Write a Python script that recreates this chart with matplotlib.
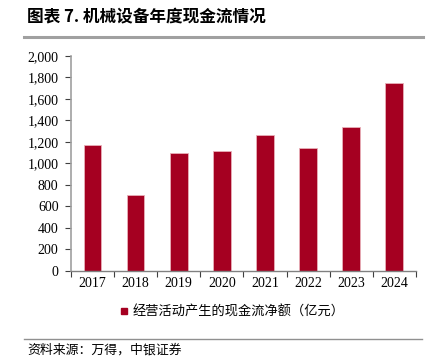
import matplotlib.pyplot as plt
import numpy as np
from matplotlib.ticker import FuncFormatter, FixedLocator
from matplotlib.lines import Line2D

plt.rcParams['font.family'] = ['Liberation Serif', 'Noto Sans CJK SC']

# データ
years = ['2017', '2018', '2019', '2020', '2021', '2022', '2023', '2024']
cash_flow = [1172, 702, 1098, 1120, 1265, 1144, 1337, 1743]
series_name = '经营活动产生的现金流净额（亿元）'

bar_color = '#A50021'
cjk = ['Noto Sans CJK SC', 'DejaVu Sans']

fig = plt.figure(figsize=(4.41, 3.58), dpi=100)
ax = fig.add_axes([0.161, 0.243, 0.782, 0.601])

x = np.arange(len(years))
ax.bar(x, cash_flow, width=0.41, color=bar_color, edgecolor='#E8B0B8', linewidth=0.6)

ax.set_xlim(-0.5, len(years) - 0.5)
ax.set_ylim(0, 2000)
ax.set_yticks(range(0, 2001, 200))
ax.yaxis.set_major_formatter(FuncFormatter(lambda v, p: f'{int(v):,}'))
ax.set_xticks(x)
ax.set_xticklabels(years)
ax.xaxis.set_minor_locator(FixedLocator(np.arange(-0.5, len(years), 1)))
ax.tick_params(axis='x', which='major', length=0, labelsize=10, pad=4)
ax.tick_params(axis='x', which='minor', length=4, width=0.8, color='#404040', direction='out')
ax.tick_params(axis='y', length=4, width=0.8, color='#404040', labelsize=10, pad=5)

for s in ['top', 'right']:
    ax.spines[s].set_visible(False)
ax.spines['left'].set_color('#A0A0A0')
ax.spines['left'].set_linewidth(1.2)
ax.spines['bottom'].set_color('#808080')
ax.spines['bottom'].set_linewidth(1.0)

# 凡例
handle = Line2D([], [], marker='s', linestyle='none', color=bar_color, markersize=5)
leg = fig.legend([handle], [series_name], loc='center', bbox_to_anchor=(0.527, 0.128),
                 frameon=False, handlelength=0.6, handletextpad=0.3,
                 prop={'family': cjk, 'size': 9.5})

# タイトルと線
fig.text(0.061, 0.953, '图表 7. 机械设备年度现金流情况', fontsize=12, fontweight='bold',
         family=cjk, va='center', ha='left')
fig.add_artist(Line2D([0.054, 0.960], [0.898, 0.898], color='#A0A0A0', linewidth=2.2))

fig.add_artist(Line2D([0.054, 0.958], [0.053, 0.053], color='#909090', linewidth=1.0))
fig.text(0.061, 0.022, '资料来源：万得，中银证券', fontsize=9.3, style='italic',
         family=cjk, va='center', ha='left')

plt.savefig('out.png', dpi=100)
